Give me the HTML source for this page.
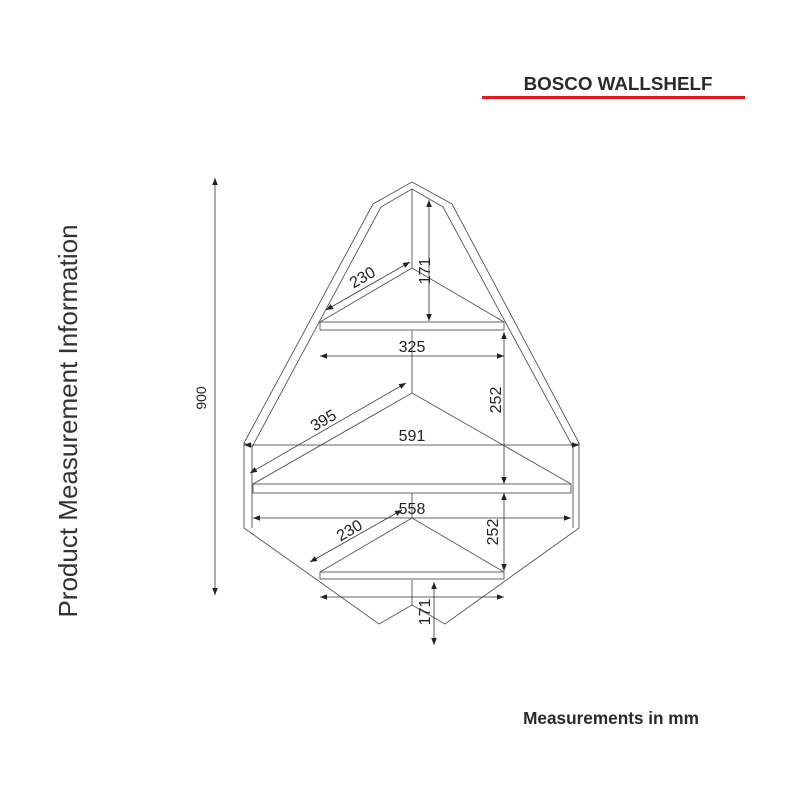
<!DOCTYPE html>
<html><head><meta charset="utf-8"><style>
html,body{margin:0;padding:0;background:#fff;}
svg{display:block;}
text{font-family:"Liberation Sans",sans-serif;}
</style></head><body>
<svg width="800" height="800" viewBox="0 0 800 800" xmlns="http://www.w3.org/2000/svg">
<defs>
<marker id="a" viewBox="0 0 10 10" refX="10" refY="5" markerWidth="7" markerHeight="7" orient="auto-start-reverse" markerUnits="userSpaceOnUse"><path d="M0,1 L10,5 L0,9 z" fill="#222"/></marker>
</defs>
<rect width="800" height="800" fill="#fff"/>
<text x="618" y="90" font-size="18.8" font-weight="bold" fill="#2a2a2a" text-anchor="middle">BOSCO WALLSHELF</text>
<rect x="482" y="96" width="263" height="3" fill="#e0191f"/>
<text x="611" y="724" font-size="17.2" font-weight="bold" fill="#2a2a2a" text-anchor="middle">Measurements in mm</text>
<text transform="translate(77,421) rotate(-90)" font-size="26" fill="#333" text-anchor="middle">Product Measurement Information</text>

<g fill="none" stroke="#555" stroke-width="0.9">
<path d="M244,443 L373,204 L412,182 L452,204 L579,443 L579,528 L445,624 L412,605 L379,624 L244,528 Z"/>
<path d="M252,447 L381,207 L412,189 L443,207 L573,447 L573,528"/>
<path d="M252,447 L252,528"/>
<line x1="244" y1="443" x2="252" y2="447"/>
<line x1="579" y1="443" x2="573" y2="447"/>
<line x1="412" y1="189" x2="412" y2="268"/>
<line x1="412" y1="331" x2="412" y2="393"/>
<line x1="412" y1="493" x2="412" y2="518"/>
<line x1="412" y1="580" x2="412" y2="605"/>
<rect x="320" y="322" width="184" height="8"/>
<path d="M320,322 L412,268 L504,322"/>
<rect x="253" y="484" width="318" height="9"/>
<path d="M253,484 L412,393 L571,484"/>
<rect x="320" y="572" width="184" height="7"/>
<path d="M320,572 L412,518 L504,572"/>
</g>

<g stroke="#333" stroke-width="0.8" fill="none" marker-start="url(#a)" marker-end="url(#a)">
<line x1="410" y1="262" x2="326" y2="310"/>
<line x1="429" y1="200" x2="429" y2="321"/>
<line x1="320" y1="356" x2="504" y2="356"/>
<line x1="504" y1="332" x2="504" y2="484"/>
<line x1="406" y1="383" x2="250" y2="473"/>
<line x1="244" y1="445" x2="579" y2="445"/>
<line x1="253" y1="518" x2="571" y2="518"/>
<line x1="402" y1="510" x2="310" y2="562"/>
<line x1="504" y1="493" x2="504" y2="571"/>
<line x1="320" y1="597" x2="504" y2="597"/>
<line x1="434" y1="582" x2="434" y2="645"/>
<line x1="215" y1="178" x2="215" y2="595"/>
</g>

<g font-size="16" fill="#222" text-anchor="middle">
<text transform="translate(365,282) rotate(-30)">230</text>
<text transform="translate(430,271) rotate(-90)">171</text>
<text x="412" y="352">325</text>
<text transform="translate(501,400) rotate(-90)">252</text>
<text transform="translate(326,425) rotate(-30)">395</text>
<text x="412" y="441">591</text>
<text x="412" y="514">558</text>
<text transform="translate(352,535) rotate(-30)">230</text>
<text transform="translate(498,532) rotate(-90)">252</text>
<text transform="translate(430,612) rotate(-90)">171</text>
<text transform="translate(206,398) rotate(-90)" font-size="14">900</text>
</g>
</svg>
</body></html>
